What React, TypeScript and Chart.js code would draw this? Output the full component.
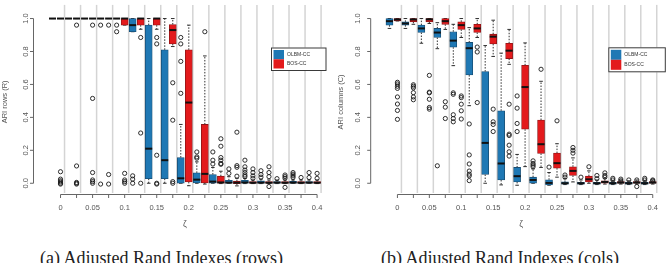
import { useEffect, useRef } from "react";
import { Chart, registerables } from "chart.js";

Chart.register(...registerables);

// noise level grid (x axis)
const zeta = [0, 0.025, 0.05, 0.075, 0.1, 0.125, 0.15, 0.175, 0.2, 0.225, 0.25, 0.275, 0.3, 0.325, 0.35, 0.375, 0.4];
const zetaTickLabels = ["0", "", "0.05", "", "0.1", "", "0.15", "", "0.2", "", "0.25", "", "0.3", "", "0.35", "", "0.4"];
const ariTicks = [0, 0.2, 0.4, 0.6, 0.8, 1.0];
const ariTickLabels = ["0.0", "0.2", "0.4", "0.6", "0.8", "1.0"];
const methodNames = ["OLBM-CC", "BOS-CC"];
const methodColors = ["#1F78B4", "#E31A1C"];
const methodEdges = ["#174d73", "#8c1416"];

// box summaries: [lower whisker, Q1, median, Q3, upper whisker]
const rowsOlbmBoxes = [
  [1, 1, 1, 1, 1], [1, 1, 1, 1, 1], [1, 1, 1, 1, 1], [1, 1, 1, 1, 1], [1, 1, 1, 1, 1],
  [0.92, 0.92, 0.96, 1, 1],
  [0.0, 0.028, 0.21, 0.96, 1],
  [0.0, 0.028, 0.14, 0.81, 1],
  [0.0, 0.0, 0.03, 0.156, 0.357],
  [0.0, 0.002, 0.022, 0.063, 0.13],
  [0.0, 0.0, 0.01, 0.053, 0.096],
  [0.0, 0.0, 0.004, 0.018, 0.04],
  [-0.002, 0.0, 0.005, 0.018, 0.03],
  [-0.002, 0.0, 0.004, 0.015, 0.025],
  [-0.002, 0.0, 0.004, 0.01, 0.02],
  [0.0, 0.0, 0.004, 0.012, 0.02],
  [0.0, 0.0, 0.004, 0.01, 0.02],
];
const rowsOlbmOutliers = [
  [], [], [], [0.96, -0.005], [0.96, 0.92], [0.045, 0.025, 0.0], [], [],
  [0.885, 0.846, 0.74, 0.546],
  [0.19, 0.16, 0.152],
  [0.19, 0.14, 0.117],
  [0.087, 0.06],
  [0.14, 0.1, 0.08, 0.065, 0.05, 0.04],
  [0.076, 0.053, 0.037],
  [0.028],
  [0.065, 0.055, 0.045, 0.035],
  [0.065, 0.035],
];
const rowsBosBoxes = [
  [1, 1, 1, 1, 1], [1, 1, 1, 1, 1], [1, 1, 1, 1, 1], [1, 1, 1, 1, 1],
  [0.96, 0.96, 1, 1, 1],
  [0.935, 0.96, 1, 1, 1],
  [0.935, 0.96, 1, 1, 1],
  [0.83, 0.846, 0.93, 0.964, 1],
  [-0.015, 0.008, 0.49, 0.81, 0.96],
  [-0.005, 0.002, 0.057, 0.357, 0.773],
  [-0.002, 0.0, 0.005, 0.043, 0.073],
  [-0.016, -0.002, 0.004, 0.013, 0.03],
  [-0.002, 0.0, 0.003, 0.01, 0.02],
  [-0.002, 0.0, 0.003, 0.01, 0.02],
  [-0.002, 0.0, 0.003, 0.01, 0.02],
  [-0.002, 0.0, 0.003, 0.01, 0.02],
  [-0.002, 0.0, 0.003, 0.01, 0.02],
];
const rowsBosOutliers = [
  [0.07, 0.025, 0.015, 0.008, 0.0, -0.005],
  [0.96, 0.105, 0.005, 0.0, -0.005],
  [0.96, 0.515, 0.065, 0.02, 0.01, 0.0],
  [0.96, 0.053, -0.005],
  [0.06, 0.02, 0.01, 0.0],
  [0.885, 0.305, 0.0],
  [0.885, 0.846, 0.17, 0.0, -0.005],
  [0.61, 0.383, 0.01, 0.0],
  [],
  [0.92],
  [0.27, 0.225, 0.156, 0.14, 0.12, 0.115],
  [0.31, 0.107, 0.097, 0.043],
  [0.087, 0.065, 0.045, 0.03],
  [0.1, 0.065, 0.04, -0.02],
  [0.05, 0.04, 0.03, -0.025],
  [0.035],
  [0.06, 0.03],
];

const colsOlbmBoxes = [
  [0.94, 0.96, 0.984, 1, 1],
  [0.94, 0.96, 0.97, 0.98, 1],
  [0.85, 0.915, 0.94, 0.96, 1],
  [0.817, 0.885, 0.915, 0.94, 0.975],
  [0.714, 0.826, 0.866, 0.92, 0.965],
  [0.471, 0.657, 0.82, 0.855, 0.945],
  [0.0, 0.053, 0.245, 0.678, 0.836],
  [-0.01, 0.02, 0.12, 0.44, 0.79],
  [-0.012, 0.008, 0.043, 0.096, 0.175],
  [0.0, 0.0, 0.02, 0.037, 0.087],
  [-0.012, -0.01, 0.002, 0.021, 0.065],
  [-0.008, -0.005, 0.0, 0.008, 0.028],
  [-0.008, -0.005, 0.0, 0.006, 0.02],
  [-0.008, -0.005, 0.0, 0.006, 0.02],
  [-0.008, -0.005, 0.0, 0.006, 0.015],
  [-0.008, -0.005, 0.0, 0.006, 0.015],
  [-0.008, -0.005, 0.0, 0.006, 0.015],
];
const colsOlbmOutliers = [
  [], [], [], [0.106],
  [0.549, 0.54, 0.416, 0.393, 0.373],
  [0.36, 0.172, 0.117, 0.074, 0.055, 0.045, 0.016],
  [], [],
  [0.53, 0.456, 0.363, 0.314],
  [0.136, 0.12, 0.11, 0.1],
  [0.098],
  [0.05, 0.037],
  [0.037],
  [0.047, 0.028],
  [0.03, 0.02],
  [0.02],
  [0.03, 0.02],
];
const colsBosBoxes = [
  [0.985, 0.985, 0.994, 1, 1],
  [0.965, 0.98, 0.994, 1, 1],
  [0.97, 0.98, 0.995, 1, 1],
  [0.934, 0.965, 0.984, 1, 1],
  [0.885, 0.934, 0.96, 0.98, 1],
  [0.885, 0.915, 0.94, 0.965, 1],
  [0.77, 0.846, 0.89, 0.905, 0.99],
  [0.722, 0.757, 0.805, 0.85, 0.934],
  [0.101, 0.328, 0.584, 0.716, 0.852],
  [0.096, 0.181, 0.237, 0.384, 0.619],
  [0.037, 0.092, 0.122, 0.183, 0.24],
  [0.008, 0.047, 0.075, 0.1, 0.154],
  [0.0, 0.008, 0.024, 0.043, 0.075],
  [-0.005, 0.0, 0.008, 0.015, 0.03],
  [-0.005, 0.0, 0.004, 0.01, 0.02],
  [-0.005, 0.0, 0.004, 0.01, 0.02],
  [-0.005, 0.0, 0.004, 0.01, 0.02],
];
const colsBosOutliers = [
  [0.613, 0.603, 0.589, 0.576, 0.524, 0.481, 0.442, 0.388],
  [0.598, 0.589, 0.579, 0.55, 0.524, 0.507],
  [0.655, 0.553, 0.549, 0.51, 0.46, 0.45],
  [0.495, 0.462, 0.393],
  [0.53, 0.52, 0.48, 0.44, 0.39],
  [0.827, 0.797, 0.49],
  [0.45, 0.373, 0.357, 0.314],
  [0.48, 0.298, 0.29, 0.231, 0.191, 0.165],
  [],
  [0.692],
  [0.379],
  [0.217, 0.2, 0.183],
  [0.1],
  [0.063, 0.047, 0.037],
  [0.025, 0.015],
  [0.02, -0.02],
  [0.02, 0.015],
];

// geometry
const H = 235;
const AREA_BOTTOM = 193;
const Y0_PX = 183;
const Y1_PX = 14;
const SERIES_SHIFT = [-0.0125, 0];
const SEP_SHIFT = 0.00625;
const BOX_W = 7;
const CAP = 1.8;
const SANS = '"Liberation Sans", Arial, Helvetica, sans-serif';

type Panel = {
  key: string;
  boxes: number[][][];
  outliers: number[][][];
  yTitle: string;
  caption: string;
  left: number;
  width: number;
  zeroPx: number;
  pxPerUnit: number;
  yAxisX: number;
  yLabelX: number;
  yTitleX: number;
  legend: { x: number; y: number; w: number; h: number };
  captionX: number;
};

const panels: Panel[] = [
  {
    key: "rows",
    boxes: [rowsOlbmBoxes, rowsBosBoxes],
    outliers: [rowsOlbmOutliers, rowsBosOutliers],
    yTitle: "ARI rows (R)",
    caption: "(a) Adjusted Rand Indexes (rows)",
    left: 0,
    width: 334,
    zeroPx: 57.3,
    pxPerUnit: 660.8,
    yAxisX: 33.5,
    yLabelX: 26,
    yTitleX: 5,
    legend: { x: 271, y: 47.5, w: 55.5, h: 23.5 },
    captionX: 40,
  },
  {
    key: "cols",
    boxes: [colsOlbmBoxes, colsBosBoxes],
    outliers: [colsOlbmOutliers, colsBosOutliers],
    yTitle: "ARI columns (C)",
    caption: "(b) Adjusted Rand Indexes (cols)",
    left: 334,
    width: 335,
    zeroPx: 60.3,
    pxPerUnit: 657.5,
    yAxisX: 36.7,
    yLabelX: 24.3,
    yTitleX: 6.5,
    legend: { x: 274.3, y: 47.3, w: 57.5, h: 25 },
    captionX: 381,
  },
];

function decorPlugin(p: Panel) {
  const line = (ctx: CanvasRenderingContext2D, x1: number, y1: number, x2: number, y2: number) => {
    ctx.beginPath();
    ctx.moveTo(x1, y1);
    ctx.lineTo(x2, y2);
    ctx.stroke();
  };
  return {
    id: "boxDecor",
    beforeDatasetsDraw(chart: any) {
      const { ctx, chartArea: a, scales } = chart;
      const x = scales.x;
      const y = scales.y;
      ctx.save();
      // group separators
      ctx.strokeStyle = "#d4d4d4";
      ctx.lineWidth = 1.5;
      zeta.forEach((z) => {
        const px = x.getPixelForValue(z + SEP_SHIFT);
        line(ctx, px, a.top, px, a.bottom);
      });
      // whiskers and staples
      p.boxes.forEach((series, s) => {
        series.forEach((b, i) => {
          const cx = x.getPixelForValue(zeta[i] + SERIES_SHIFT[s]);
          const [lo, q1, , q3, hi] = b;
          ctx.strokeStyle = "#1a1a1a";
          ctx.lineWidth = 0.9;
          ctx.setLineDash([1.5, 1.5]);
          if (hi > q3) line(ctx, cx, y.getPixelForValue(q3), cx, y.getPixelForValue(hi));
          if (lo < q1) line(ctx, cx, y.getPixelForValue(q1), cx, y.getPixelForValue(lo));
          ctx.setLineDash([]);
          line(ctx, cx - CAP, y.getPixelForValue(hi), cx + CAP, y.getPixelForValue(hi));
          line(ctx, cx - CAP, y.getPixelForValue(lo), cx + CAP, y.getPixelForValue(lo));
        });
      });
      ctx.restore();
    },
    afterDatasetsDraw(chart: any) {
      const { ctx, scales } = chart;
      const x = scales.x;
      const y = scales.y;
      ctx.save();
      ctx.strokeStyle = "#111";
      ctx.lineWidth = 2;
      p.boxes.forEach((series, s) => {
        series.forEach((b, i) => {
          const cx = x.getPixelForValue(zeta[i] + SERIES_SHIFT[s]);
          const py = y.getPixelForValue(b[2]);
          line(ctx, cx - BOX_W / 2, py, cx + BOX_W / 2, py);
        });
      });
      ctx.restore();
    },
    afterDraw(chart: any) {
      const { ctx, chartArea: a, scales } = chart;
      const x = scales.x;
      const y = scales.y;
      ctx.save();
      ctx.strokeStyle = "#666";
      ctx.fillStyle = "#555";
      ctx.lineWidth = 1;
      // x axis
      const axisY = a.bottom + 1.5;
      line(ctx, x.getPixelForValue(zeta[0]), axisY, x.getPixelForValue(zeta[zeta.length - 1]), axisY);
      ctx.font = `7.5px ${SANS}`;
      ctx.textAlign = "center";
      ctx.textBaseline = "middle";
      zeta.forEach((z, i) => {
        const px = x.getPixelForValue(z);
        line(ctx, px, axisY, px, axisY + 3.5);
        if (zetaTickLabels[i]) ctx.fillText(zetaTickLabels[i], px, 208);
      });
      ctx.font = `8.5px ${SANS}`;
      ctx.fillText("ζ", x.getPixelForValue((zeta[0] + SERIES_SHIFT[0] + zeta[zeta.length - 1]) / 2), 225);
      // y axis
      line(ctx, p.yAxisX, y.getPixelForValue(0), p.yAxisX, y.getPixelForValue(1));
      ctx.font = `7.5px ${SANS}`;
      ariTicks.forEach((v, i) => {
        const py = y.getPixelForValue(v);
        line(ctx, p.yAxisX, py, p.yAxisX - 3.5, py);
        ctx.save();
        ctx.translate(p.yLabelX, py);
        ctx.rotate(-Math.PI / 2);
        ctx.fillText(ariTickLabels[i], 0, 0);
        ctx.restore();
      });
      ctx.save();
      ctx.translate(p.yTitleX, (y.getPixelForValue(0) + y.getPixelForValue(1)) / 2 + 1);
      ctx.rotate(-Math.PI / 2);
      ctx.fillText(p.yTitle, 0, 0);
      ctx.restore();
      // legend
      const L = p.legend;
      ctx.fillStyle = "#fff";
      ctx.fillRect(L.x, L.y, L.w, L.h);
      ctx.strokeStyle = "#3a3a3a";
      ctx.strokeRect(L.x + 0.5, L.y + 0.5, L.w - 1, L.h - 1);
      const sh = (L.h - 5) / 2;
      ctx.font = `5px ${SANS}`;
      ctx.textAlign = "left";
      methodNames.forEach((name, k) => {
        ctx.fillStyle = methodColors[k];
        ctx.fillRect(L.x + 2.5, L.y + 2.5 + k * sh, 10.5, sh);
        ctx.fillStyle = "#333";
        ctx.fillText(name, L.x + 16, L.y + 2.5 + k * sh + sh / 2);
      });
      ctx.restore();
    },
  };
}

function buildConfig(p: Panel): any {
  const datasets: any[] = p.boxes.map((series, s) => ({
    type: "bar",
    label: methodNames[s],
    data: series.map((b, i) => ({ x: zeta[i] + SERIES_SHIFT[s], y: [b[1], b[3]] })),
    backgroundColor: methodColors[s],
    borderColor: methodEdges[s],
    borderWidth: 0.8,
    borderSkipped: false,
    barThickness: BOX_W,
    grouped: false,
    order: 2,
  }));
  datasets.push({
    type: "scatter",
    label: "outliers",
    data: p.outliers.flatMap((series, s) =>
      series.flatMap((vals, i) => vals.map((v) => ({ x: zeta[i] + SERIES_SHIFT[s], y: v })))
    ),
    pointRadius: 2.1,
    pointBorderWidth: 0.9,
    pointBackgroundColor: "rgba(0,0,0,0)",
    pointBorderColor: "#1a1a1a",
    showLine: false,
    order: 1,
  });
  const perY = Y0_PX - Y1_PX;
  return {
    type: "bar",
    data: { datasets },
    options: {
      animation: false,
      responsive: false,
      maintainAspectRatio: false,
      devicePixelRatio: 1,
      events: [],
      layout: { padding: { left: 0, right: 0, top: 0, bottom: H - AREA_BOTTOM } },
      plugins: { legend: { display: false }, tooltip: { enabled: false } },
      scales: {
        x: {
          type: "linear",
          display: false,
          offset: false,
          min: -p.zeroPx / p.pxPerUnit,
          max: (p.width - p.zeroPx) / p.pxPerUnit,
        },
        y: {
          type: "linear",
          display: false,
          min: -(AREA_BOTTOM - Y0_PX) / perY,
          max: Y0_PX / perY,
        },
      },
    },
    plugins: [decorPlugin(p)],
  };
}

function BoxPanel({ panel }: { panel: Panel }) {
  const ref = useRef<HTMLCanvasElement>(null);
  useEffect(() => {
    const chart = new Chart(ref.current as HTMLCanvasElement, buildConfig(panel));
    return () => chart.destroy();
  }, [panel]);
  return (
    <canvas
      ref={ref}
      width={panel.width}
      height={H}
      style={{ position: "absolute", left: panel.left, top: 0, width: panel.width, height: H }}
    />
  );
}

export default function App() {
  return (
    <div style={{ position: "absolute", left: 0, top: 0, width: 669, height: 263, background: "#fff", overflow: "hidden" }}>
      {panels.map((p) => (
        <BoxPanel key={p.key} panel={p} />
      ))}
      {panels.map((p) => (
        <div
          key={p.key + "-cap"}
          style={{
            position: "absolute",
            left: p.captionX,
            top: 248,
            fontFamily: '"Liberation Serif", "Times New Roman", serif',
            fontSize: 18,
            lineHeight: "20px",
            color: "#222",
            whiteSpace: "nowrap",
          }}
        >
          {p.caption}
        </div>
      ))}
    </div>
  );
}
